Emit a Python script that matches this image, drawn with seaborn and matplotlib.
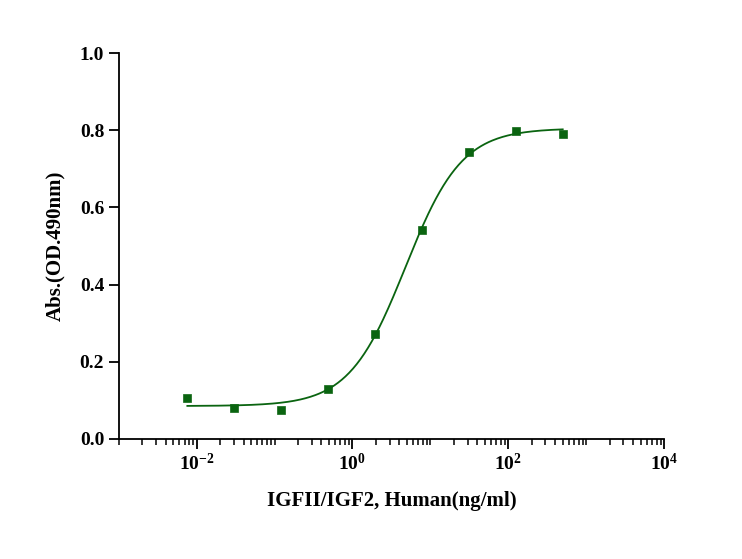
import numpy as np
import pandas as pd
import seaborn as sns
import matplotlib
matplotlib.use("Agg")
import matplotlib.pyplot as plt
from matplotlib.ticker import LogLocator, NullFormatter

conc = [0.0076, 0.0305, 0.122, 0.488, 1.95, 7.81, 31.25, 125, 500]
absorb = [0.106, 0.080, 0.075, 0.130, 0.272, 0.541, 0.743, 0.798, 0.790]
xlabel = "IGFII/IGF2, Human(ng/ml)"
ylabel = "Abs.(OD.490nm)"
color = "#0a6410"

plt.rcParams["font.family"] = "Liberation Serif"
plt.rcParams["font.weight"] = "bold"

x = np.array(conc); y = np.array(absorb)
lx = np.log10(x)

def f4(lxv, b, t, lec, h):
    return b + (t - b) / (1 + 10 ** ((lec - lxv) * h))

best = None
for b in np.linspace(0.06, 0.11, 11):
    for t in np.linspace(0.76, 0.84, 17):
        for lec in np.linspace(0.3, 0.9, 31):
            for h in np.linspace(0.7, 1.6, 19):
                r = np.sum((f4(lx, b, t, lec, h) - y) ** 2)
                if best is None or r < best[0]:
                    best = (r, b, t, lec, h)
_, b, t, lec, h = best
xs = np.logspace(np.log10(x.min()), np.log10(x.max()), 300)
fit = pd.DataFrame({"x": xs, "y": f4(np.log10(xs), b, t, lec, h)})
df = pd.DataFrame({"x": x, "y": y})

fig, ax = plt.subplots(figsize=(7.42, 5.59), dpi=100)
fig.subplots_adjust(left=0.16, right=0.895, bottom=0.215, top=0.905)
sns.lineplot(data=fit, x="x", y="y", ax=ax, color=color, lw=1.3)
sns.scatterplot(data=df, x="x", y="y", ax=ax, color=color, marker="s", s=35, edgecolor=color, zorder=3)
ax.set_xscale("log")
ax.set_xlim(1e-3, 1e4)
ax.set_ylim(0, 1.0)
ax.set_xticks([1e-2, 1, 1e2, 1e4])
ax.xaxis.set_minor_locator(LogLocator(base=10, subs=np.arange(2, 10)*0.1*10/10, numticks=100))
ax.xaxis.set_minor_locator(LogLocator(base=10, subs="all", numticks=100))
ax.xaxis.set_minor_formatter(NullFormatter())
ax.set_yticks(np.arange(0, 1.01, 0.2))
ax.set_yticklabels([f"{v:.1f}" for v in np.arange(0, 1.01, 0.2)])
ax.set_xlabel(xlabel, fontsize=15, fontweight="bold", labelpad=12)
ax.set_ylabel(ylabel, fontsize=15, fontweight="bold", labelpad=10)
ax.tick_params(axis="both", labelsize=14, width=1.3, length=7, direction="out")
ax.tick_params(axis="x", which="minor", length=4, width=1.1)
for s in ["top", "right"]:
    ax.spines[s].set_visible(False)
for s in ["left", "bottom"]:
    ax.spines[s].set_linewidth(1.3)
fig.savefig("out.png", dpi=100)
